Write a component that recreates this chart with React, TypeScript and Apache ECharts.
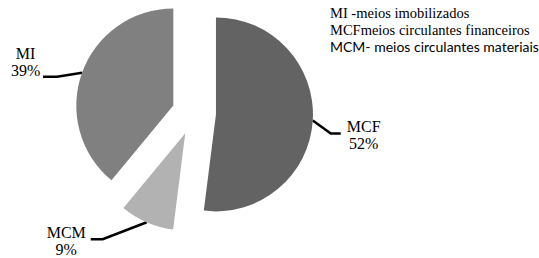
import React, { useEffect, useRef } from "react";
import * as echarts from "echarts";

const categories = ["MCF", "MCM", "MI"];
const shares = [52, 9, 39];
const sliceColors = ["#636363", "#b2b2b2", "#808080"];
const legendLines = [
  "MI -meios imobilizados",
  "MCFmeios circulantes financeiros",
  "MCM- meios circulantes materiais",
];
const serif = "'Liberation Serif', 'Times New Roman', serif";
const legendFonts = [serif, serif, "Lato, sans-serif"];
const legendSizes = [14.5, 14.5, 14];

// leader line layout (relative to the anchor ECharts computes on each slice)
const bendOffset = [
  [18, 13],
  [-44, 17],
  [-25, 4],
];
const tailLength = [10, -12, -14];
const labelGap = [4, -5.5, 1.5];
const labelMidShift = [1.5, 1.5, -14.5];

export default function App() {
  const ref = useRef<HTMLDivElement>(null);
  useEffect(() => {
    const chart = echarts.init(ref.current!, null, { renderer: "svg" });
    chart.setOption({
      animation: false,
      backgroundColor: "#ffffff",
      series: [
        {
          type: "pie",
          center: [194, 113],
          radius: 97,
          startAngle: 90,
          clockwise: true,
          selectedMode: "multiple",
          selectedOffset: 22,
          avoidLabelOverlap: false,
          emphasis: { disabled: true },
          itemStyle: { borderWidth: 0 },
          label: {
            show: true,
            position: "outside",
            formatter: "{t|{b}}\n{t|{d}%}",
            color: "#000",
            fontFamily: serif,
            distanceToLabelLine: 0,
            rich: {
              t: {
                width: 38,
                align: "center",
                fontFamily: serif,
                fontSize: 16,
                lineHeight: 17,
                color: "#000",
              },
            },
          },
          labelLine: {
            show: true,
            length: 10,
            length2: 10,
            lineStyle: { color: "#000", width: 2.5 },
          },
          labelLayout: (p: any) => {
            const i = p.dataIndex;
            const pts = p.labelLinePoints;
            const a = pts[0];
            const defEnd = pts[2];
            const bend = [a[0] + bendOffset[i][0], a[1] + bendOffset[i][1]];
            const end = [bend[0] + tailLength[i], bend[1]];
            return {
              labelLinePoints: [a, bend, end],
              dx: end[0] + labelGap[i] - defEnd[0],
              dy: end[1] + labelMidShift[i] - defEnd[1],
            };
          },
          data: categories.map((name, i) => ({
            name,
            value: shares[i],
            selected: true,
            itemStyle: { color: sliceColors[i] },
          })),
        },
      ],
      graphic: legendLines.map((t, i) => ({
        type: "text",
        left: 330,
        top: 5 + i * 17,
        style: {
          text: t,
          fontFamily: legendFonts[i],
          fontSize: legendSizes[i],
          fill: "#000",
        },
      })),
    });
    return () => chart.dispose();
  }, []);
  return (
    <div
      ref={ref}
      style={{ position: "fixed", left: 0, top: 0, width: 539, height: 258 }}
    />
  );
}
